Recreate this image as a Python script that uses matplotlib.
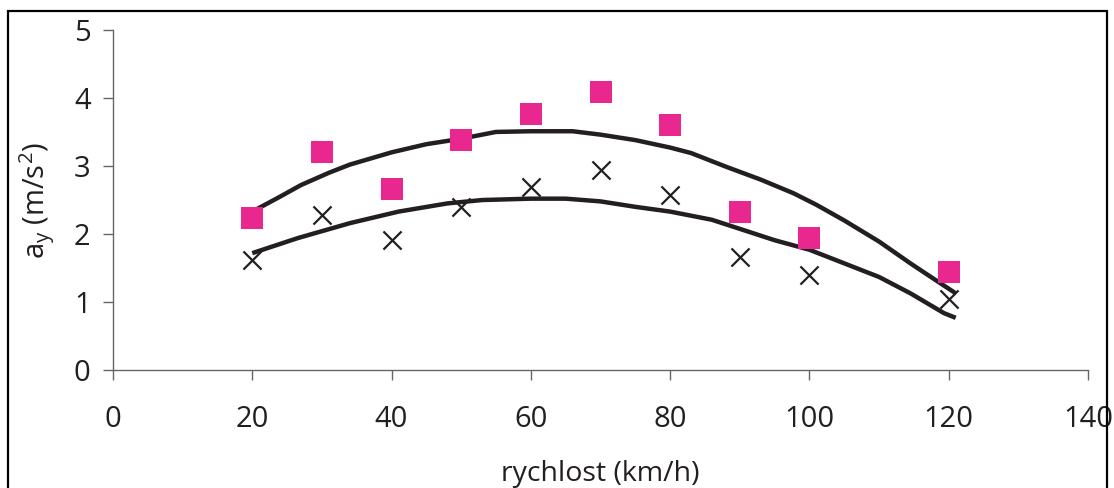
import matplotlib.pyplot as plt
from matplotlib.patches import Rectangle

plt.rcParams["font.family"] = ["Open Sans", "DejaVu Sans"]
plt.rcParams["mathtext.fontset"] = "custom"
plt.rcParams["mathtext.rm"] = "Open Sans"
plt.rcParams["mathtext.it"] = "Open Sans"

# measured points
speed = [20, 30, 40, 50, 60, 70, 80, 90, 100, 120]
ay_squares = [2.24, 3.20, 2.66, 3.38, 3.77, 4.09, 3.60, 2.32, 1.94, 1.45]
ay_crosses = [1.62, 2.28, 1.92, 2.40, 2.69, 2.94, 2.57, 1.67, 1.40, 1.05]

# fitted curves
upper_x = [20, 24, 27, 31, 34, 40, 45, 50, 55, 60, 66, 70, 75, 80, 83, 88, 93, 97.7, 101, 105, 110, 114.5, 117, 121]
upper_y = [2.33, 2.55, 2.72, 2.90, 3.02, 3.20, 3.32, 3.40, 3.50, 3.51, 3.51, 3.46, 3.38, 3.27, 3.19, 2.99, 2.80, 2.60, 2.43, 2.20, 1.89, 1.57, 1.40, 1.13]
lower_x = [20, 26.5, 34, 41, 48, 53, 60, 65, 70, 75, 80, 86, 90.5, 95, 100, 105, 110, 114.5, 119.3, 121]
lower_y = [1.72, 1.94, 2.16, 2.33, 2.45, 2.50, 2.52, 2.52, 2.48, 2.40, 2.33, 2.21, 2.06, 1.91, 1.77, 1.57, 1.37, 1.13, 0.84, 0.77]

fig = plt.figure(figsize=(11.14, 4.88), dpi=100)
ax = fig.add_axes([0.1014, 0.2412, 0.8753, 0.6978])

ax.plot(upper_x, upper_y, color="#231f20", lw=3.2, solid_capstyle="butt", zorder=2)
ax.plot(lower_x, lower_y, color="#231f20", lw=3.2, solid_capstyle="butt", zorder=2)
ax.scatter(speed, ay_squares, marker="s", s=250, color="#e8288e", linewidths=0, zorder=3)
ax.scatter(speed, ay_crosses, marker="x", s=170, color="#231f20", linewidths=1.6, zorder=3)

ax.set_xlim(0, 140)
ax.set_ylim(0, 5)
ax.set_xticks(range(0, 141, 20))
ax.set_yticks(range(0, 6))

for side in ["top", "right"]:
    ax.spines[side].set_visible(False)
for side in ["left", "bottom"]:
    ax.spines[side].set_color("#666666")
    ax.spines[side].set_linewidth(1.0)

ax.tick_params(axis="both", colors="#666666", length=7, width=1.0, labelsize=21, labelcolor="#231f20")
ax.tick_params(axis="x", pad=18)
ax.tick_params(axis="y", pad=9)

ax.set_xlabel("rychlost (km/h)", fontsize=20.5, color="#231f20", labelpad=19)
ax.set_ylabel(r"$a_{\mathrm{y}}$ (m/s$^2$)", fontsize=21, color="#231f20", labelpad=12)

# frame around the figure
fig.patches.append(Rectangle((8 / 1114, -0.2), (1107 - 8) / 1114, 1.2 - 11 / 488,
                             transform=fig.transFigure, fill=False, edgecolor="black",
                             linewidth=1.6, clip_on=False))

plt.savefig("out.png", dpi=100)
